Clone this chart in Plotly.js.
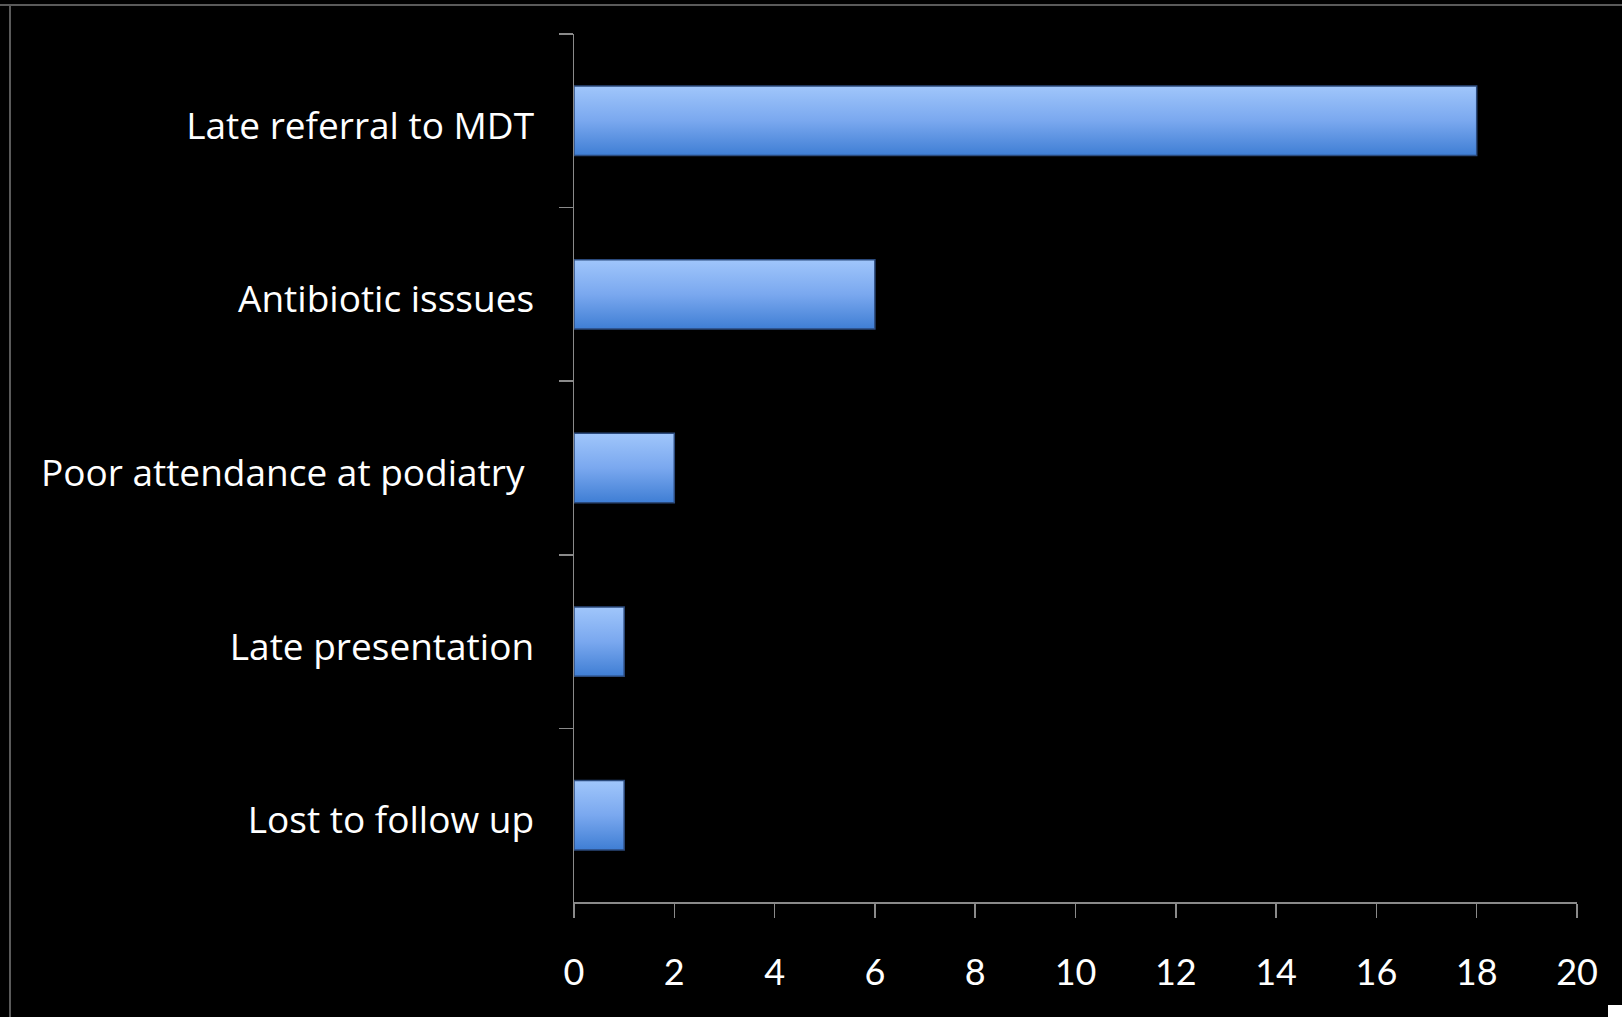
<!DOCTYPE html>
<html>
<head>
<meta charset="utf-8">
<script src="https://cdn.plot.ly/plotly-3.0.1.min.js"></script>
<style>
  html, body { margin: 0; padding: 0; background: #000; }
  #chart { width: 1622px; height: 1017px; }
</style>
</head>
<body>
<div id="chart"></div>
<script>
const categories = ["Late referral to MDT", "Antibiotic isssues", "Poor attendance at podiatry\u00a0", "Late presentation", "Lost to follow up"];
const counts = [18, 6, 2, 1, 1];
const xTickValues = [0, 2, 4, 6, 8, 10, 12, 14, 16, 18, 20];

const yLabelFont = { family: "'Open Sans', Lato, sans-serif", size: 37, color: "#ffffff" };
const xLabelFont = { family: "Lato, 'Open Sans', sans-serif", size: 36, color: "#ffffff" };

const trace = {
  type: "bar",
  orientation: "h",
  y: categories,
  x: counts,
  width: 0.4,
  marker: { color: "#6a9be6", line: { color: "#2b4a7c", width: 1.5 } },
  hoverinfo: "x+y"
};

const layout = {
  width: 1622,
  height: 1017,
  paper_bgcolor: "#000000",
  plot_bgcolor: "#000000",
  margin: { l: 574, r: 45, t: 34, b: 115, pad: 0 },
  showlegend: false,
  bargap: 0.6,
  xaxis: {
    range: [0, 20],
    tickvals: xTickValues,
    ticktext: xTickValues.map(String),
    ticks: "outside",
    ticklen: 14,
    tickwidth: 1.5,
    tickcolor: "#8a8a8a",
    showline: true,
    linecolor: "#8a8a8a",
    linewidth: 1.5,
    showgrid: false,
    zeroline: false,
    tickfont: xLabelFont,
    ticklabelstandoff: 24
  },
  yaxis: {
    type: "category",
    autorange: "reversed",
    ticks: "outside",
    tickson: "boundaries",
    ticklen: 14,
    tickwidth: 1.5,
    tickcolor: "#8a8a8a",
    showline: true,
    linecolor: "#8a8a8a",
    linewidth: 1.5,
    showgrid: false,
    zeroline: false,
    tickfont: yLabelFont,
    ticklabelstandoff: 31
  },
  shapes: [
    { type: "line", xref: "paper", yref: "paper", x0: -574/1003, x1: (1622-574)/1003, y0: (1017-115-5)/868, y1: (1017-115-5)/868, line: { color: "#5a5a5a", width: 2 } },
    { type: "line", xref: "paper", yref: "paper", x0: -564/1003, x1: -564/1003, y0: (1017-115-5)/868, y1: -115/868, line: { color: "#5a5a5a", width: 2 } },
    { type: "rect", xref: "paper", yref: "paper", x0: (1608-574)/1003, x1: (1622-574)/1003, y0: -115/868, y1: -103/868, fillcolor: "#ffffff", line: { width: 0 } }
  ]
};

Plotly.newPlot("chart", [trace], layout, { displayModeBar: false, staticPlot: true }).then(function (gd) {
  const svg = gd.querySelector("svg.main-svg");
  const ns = "http://www.w3.org/2000/svg";
  let defs = svg.querySelector("defs");
  if (!defs) { defs = document.createElementNS(ns, "defs"); svg.insertBefore(defs, svg.firstChild); }
  const grad = document.createElementNS(ns, "linearGradient");
  grad.setAttribute("id", "barGrad");
  grad.setAttribute("x1", "0"); grad.setAttribute("y1", "0");
  grad.setAttribute("x2", "0"); grad.setAttribute("y2", "1");
  [["0%", "#a0c6fb"], ["50%", "#7aa8ef"], ["100%", "#3f7ed4"]].forEach(function (s) {
    const st = document.createElementNS(ns, "stop");
    st.setAttribute("offset", s[0]);
    st.setAttribute("stop-color", s[1]);
    grad.appendChild(st);
  });
  defs.appendChild(grad);
  gd.querySelectorAll(".barlayer .point path").forEach(function (p) {
    p.style.fill = "url(#barGrad)";
  });
  gd.querySelectorAll(".ytick text").forEach(function (t) {
    const y = parseFloat(t.getAttribute("y") || "0");
    t.setAttribute("y", String(y + 5));
  });
});
</script>
</body>
</html>
